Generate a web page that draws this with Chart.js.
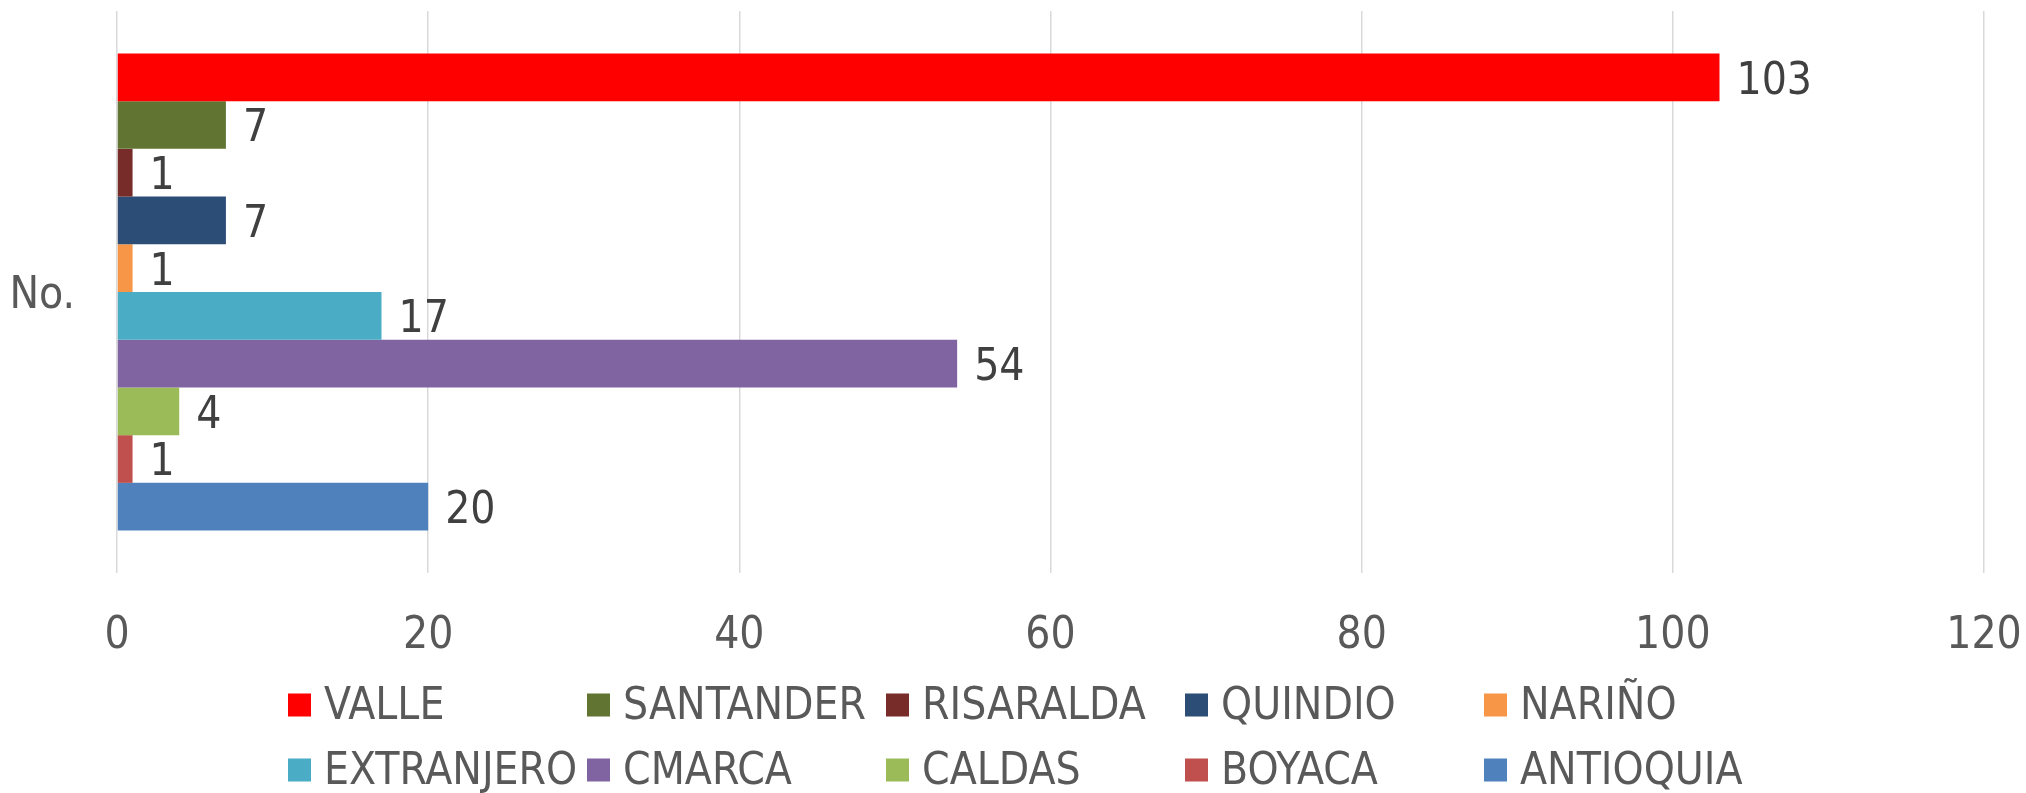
<!DOCTYPE html>
<html>
<head>
<meta charset="utf-8">
<script src="https://cdn.jsdelivr.net/npm/chart.js@4/dist/chart.umd.min.js"></script>
<style>
  html, body { margin: 0; padding: 0; background: #ffffff; }
  #wrap { width: 2026px; height: 793px; position: relative; }
</style>
</head>
<body>
<div id="wrap"><canvas id="c" width="2026" height="793"></canvas></div>
<script>
// ---- data ----
const categories = ['No.'];
const seriesNames = ['VALLE', 'SANTANDER', 'RISARALDA', 'QUINDIO', 'NARIÑO',
                     'EXTRANJERO', 'CMARCA', 'CALDAS', 'BOYACA', 'ANTIOQUIA'];
const seriesValues = [103, 7, 1, 7, 1, 17, 54, 4, 1, 20];
const xTickValues = [0, 20, 40, 60, 80, 100, 120];

// ---- styles ----
const seriesColors = ['#FF0000', '#617431', '#772C2A', '#2C4D75', '#F79646',
                      '#4BACC6', '#8064A2', '#9BBB59', '#C0504D', '#4F81BD'];

// pick an installed narrow font
function pickFont() {
  const cands = ['DejaVu Sans Condensed', 'Liberation Sans Narrow', 'DejaVu Sans'];
  const c = document.createElement('canvas').getContext('2d');
  for (const f of cands) {
    let differs = false;
    for (const base of ['monospace', 'serif']) {
      c.font = '42px ' + base;
      const w0 = c.measureText('EXTRANJERO 0123').width;
      c.font = '42px "' + f + '", ' + base;
      const w1 = c.measureText('EXTRANJERO 0123').width;
      if (Math.abs(w0 - w1) > 0.5) differs = true;
    }
    if (differs) return f;
  }
  return 'Liberation Sans';
}
const FAMILY = pickFont();
const FONT_SIZE = 44;
const TEXT_GRAY = '#595959';
const LABEL_GRAY = '#404040';

const datasets = seriesNames.map((name, i) => ({
  label: name,
  data: [seriesValues[i]],
  backgroundColor: seriesColors[i],
  borderWidth: 0,
  categoryPercentage: 0.849,
  barPercentage: 1.0
}));

const valueLabels = {
  id: 'valueLabels',
  afterDatasetsDraw(chart) {
    const ctx = chart.ctx;
    ctx.save();
    ctx.font = FONT_SIZE + 'px "' + FAMILY + '"';
    ctx.fillStyle = LABEL_GRAY;
    ctx.textAlign = 'left';
    ctx.textBaseline = 'middle';
    chart.data.datasets.forEach((ds, i) => {
      const meta = chart.getDatasetMeta(i);
      meta.data.forEach((bar, j) => {
        ctx.fillText(String(ds.data[j]), bar.x + 17, bar.y + 5);
      });
    });
    ctx.restore();
  }
};

const gridLegend = {
  id: 'gridLegend',
  afterDraw(chart) {
    const ctx = chart.ctx;
    const cols = 5, colW = 299, x0 = 288, rowY = [705, 770], box = 23;
    ctx.save();
    ctx.font = FONT_SIZE + 'px "' + FAMILY + '"';
    ctx.textAlign = 'left';
    ctx.textBaseline = 'middle';
    chart.data.datasets.forEach((ds, i) => {
      const col = i % cols, row = Math.floor(i / cols);
      const x = x0 + col * colW, y = rowY[row];
      ctx.fillStyle = ds.backgroundColor;
      ctx.fillRect(x, y - box / 2, box, box);
      ctx.fillStyle = TEXT_GRAY;
      ctx.fillText(ds.label, x + box + 13, y + 3);
    });
    ctx.restore();
  }
};

new Chart(document.getElementById('c'), {
  type: 'bar',
  data: { labels: categories, datasets },
  options: {
    indexAxis: 'y',
    responsive: false,
    animation: false,
    devicePixelRatio: 1,
    layout: { padding: { top: 11, right: 42, left: 0, bottom: 0 } },
    plugins: { legend: { display: false }, tooltip: { enabled: false }, title: { display: false } },
    scales: {
      x: {
        type: 'linear',
        min: xTickValues[0],
        max: xTickValues[xTickValues.length - 1],
        afterBuildTicks(scale) { scale.ticks = xTickValues.map(v => ({ value: v })); },
        ticks: { font: { family: FAMILY, size: FONT_SIZE }, color: TEXT_GRAY, padding: 37, maxRotation: 0 },
        grid: { color: '#D9D9D9', lineWidth: 1.5, drawTicks: false },
        border: { display: false },
        afterFit(scale) { scale.height = 220; scale.paddingLeft = 0; scale.paddingRight = 0; }
      },
      y: {
        type: 'category',
        ticks: { font: { family: FAMILY, size: FONT_SIZE }, color: TEXT_GRAY, padding: 42, labelOffset: 5 },
        grid: { display: false, drawTicks: false },
        border: { display: false },
        afterFit(scale) { scale.width = 117; scale.paddingTop = 0; scale.paddingBottom = 0; }
      }
    }
  },
  plugins: [valueLabels, gridLegend]
});
</script>
</body>
</html>
